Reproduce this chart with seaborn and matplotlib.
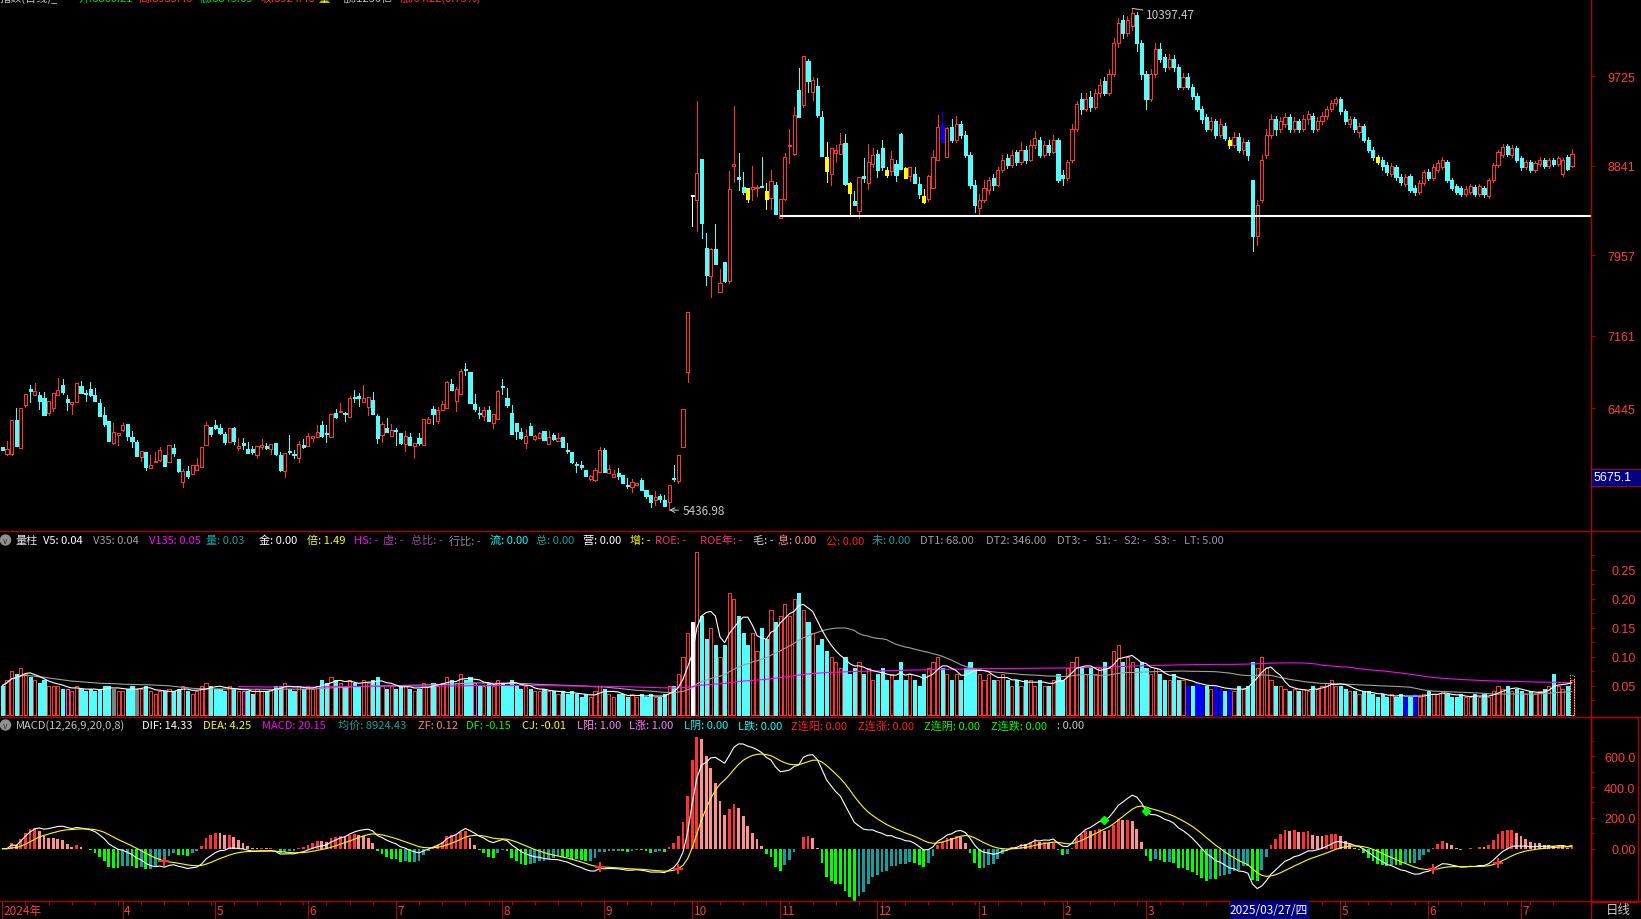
import numpy as np
import pandas as pd
import seaborn as sns
import matplotlib.pyplot as plt
from matplotlib.patches import Rectangle, Ellipse
from matplotlib.lines import Line2D

# Daily bars, Feb 2024 .. Jul 2025
opens = [
    6055, 5990, 5990, 6326, 6052, 6478, 6633, 6577, 6574, 6544,
    6399, 6448, 6577, 6673, 6534, 6481, 6508, 6663, 6587, 6633,
    6574, 6494, 6376, 6316, 6098, 6181, 6230, 6287, 6161, 6112,
    5963, 6013, 5854, 5914, 5933, 5980, 5914, 6049, 5940, 5709,
    5821, 5791, 5831, 5864, 6082, 6260, 6277, 6250, 6188, 6105,
    6247, 6052, 6098, 6039, 6039, 5983, 6056, 6072, 6039, 6095,
    5983, 5824, 6010, 5986, 5947, 6079, 6065, 6148, 6161, 6277,
    6190, 6161, 6395, 6402, 6392, 6359, 6544, 6567, 6508, 6458,
    6524, 6366, 6181, 6244, 6171, 6222, 6197, 6092, 6161, 6065,
    6148, 6082, 6293, 6438, 6320, 6428, 6448, 6682, 6518, 6587,
    6825, 6801, 6485, 6392, 6369, 6425, 6293, 6339, 6652, 6544,
    6395, 6296, 6204, 6095, 6267, 6138, 6147, 6219, 6088, 6177,
    6117, 6154, 6025, 6012, 5888, 5883, 5837, 5748, 5731, 5814,
    6031, 5804, 5764, 5807, 5781, 5677, 5662, 5685, 5731, 5632,
    5583, 5536, 5576, 5540, 5517, 5743, 5721, 6064, 6804, 8550,
    8503, 8906, 8025, 7751, 8015, 7593, 7886, 7702, 8840, 8725,
    8635, 8619, 8616, 8622, 8638, 8593, 8527, 8649, 8329, 8517,
    9032, 8955, 9589, 9441, 9880, 9566, 9625, 9325, 8929, 8764,
    8972, 8955, 9064, 8668, 8494, 8395, 8741, 8675, 8863, 8955,
    9015, 8800, 8790, 8857, 9154, 8814, 8741, 8758, 8659, 8543,
    8510, 8619, 8899, 9246, 8929, 9220, 9100, 9250, 9150, 8950,
    8650, 8420, 8500, 8600, 8720, 8650, 8800, 8920, 8850, 8980,
    8880, 9000, 8900, 9050, 9100, 8950, 9050, 8980, 9100, 8750,
    8720, 8900, 9200, 9500, 9400, 9520, 9420, 9560, 9680, 9560,
    9750, 10050, 10280, 10150, 10220, 10330, 10050, 9750, 9500, 9750,
    10000, 9920, 9820, 9900, 9820, 9620, 9720, 9620, 9530, 9400,
    9320, 9200, 9280, 9150, 9230, 9100, 9050, 9130, 9000, 9080,
    8700, 8150, 8500, 8950, 9150, 9300, 9200, 9250, 9320, 9200,
    9280, 9200, 9300, 9330, 9200, 9280, 9330, 9400, 9460, 9500,
    9380, 9250, 9300, 9170, 9230, 9100, 9000, 8930, 8900, 8850,
    8760, 8830, 8730, 8660, 8740, 8620, 8580, 8670, 8780, 8720,
    8800, 8830, 8880, 8700, 8640, 8620, 8560, 8580, 8630, 8560,
    8620, 8540, 8700, 8850, 8950, 9040, 8950, 9020, 8920, 8830,
    8880, 8800, 8860, 8900, 8840, 8900, 8860, 8760, 8930, 8840,
]
highs = [
    6062, 6121, 6326, 6445, 6445, 6584, 6673, 6692, 6600, 6607,
    6518, 6593, 6742, 6732, 6577, 6501, 6692, 6712, 6623, 6702,
    6643, 6534, 6452, 6316, 6296, 6194, 6296, 6287, 6217, 6128,
    6019, 6013, 5980, 6006, 6055, 5980, 6079, 6088, 5940, 5841,
    5874, 5881, 5950, 6056, 6303, 6260, 6326, 6287, 6204, 6247,
    6254, 6148, 6148, 6105, 6065, 6065, 6138, 6098, 6085, 6095,
    6013, 5996, 6178, 6029, 6118, 6138, 6197, 6171, 6277, 6316,
    6277, 6382, 6435, 6491, 6409, 6560, 6623, 6593, 6673, 6550,
    6603, 6382, 6303, 6346, 6287, 6244, 6197, 6214, 6194, 6102,
    6197, 6336, 6352, 6468, 6451, 6514, 6709, 6732, 6656, 6831,
    6890, 6801, 6583, 6452, 6452, 6461, 6382, 6626, 6732, 6643,
    6475, 6296, 6247, 6237, 6296, 6175, 6210, 6219, 6213, 6203,
    6197, 6154, 6104, 6012, 5913, 5926, 5837, 5787, 5856, 6064,
    6048, 5886, 5830, 5856, 5781, 5758, 5741, 5708, 5758, 5632,
    5583, 5622, 5599, 5583, 5682, 5880, 5979, 6434, 7391, 8550,
    9477, 8906, 8173, 8032, 8263, 7824, 7886, 8794, 9431, 8965,
    8780, 8625, 8834, 8649, 8932, 8668, 8797, 8682, 8517, 8965,
    9203, 9424, 9807, 9922, 9896, 9715, 9707, 9378, 9071, 9015,
    9045, 9160, 9154, 8685, 8593, 8734, 8916, 9055, 9015, 8995,
    9094, 8824, 8982, 8896, 9164, 8824, 8824, 8824, 8725, 8609,
    8748, 8998, 9341, 9378, 9220, 9300, 9330, 9280, 9180, 8980,
    8700, 8560, 8700, 8730, 8760, 8830, 8950, 8960, 9000, 9000,
    9080, 9040, 9100, 9180, 9130, 9090, 9100, 9150, 9120, 8800,
    8900, 9250, 9480, 9560, 9560, 9580, 9600, 9700, 9720, 9800,
    10100, 10300, 10330, 10320, 10397.47, 10360, 10080, 9780, 9800, 10050,
    10050, 9950, 9950, 9940, 9850, 9760, 9760, 9650, 9560, 9430,
    9350, 9320, 9300, 9300, 9260, 9130, 9170, 9160, 9120, 9100,
    8700, 8500, 8950, 9200, 9350, 9330, 9320, 9360, 9350, 9320,
    9300, 9340, 9380, 9360, 9320, 9370, 9430, 9490, 9520, 9520,
    9400, 9330, 9320, 9260, 9250, 9130, 9030, 8950, 8930, 8880,
    8870, 8850, 8760, 8760, 8760, 8650, 8700, 8800, 8810, 8860,
    8900, 8930, 8900, 8720, 8660, 8640, 8640, 8660, 8650, 8660,
    8640, 8720, 8870, 9000, 9060, 9060, 9050, 9040, 8940, 8900,
    8900, 8890, 8930, 8920, 8920, 8920, 8940, 8920, 8950, 9005,
]
lows = [
    6028, 5985, 5980, 6072, 6052, 6451, 6508, 6577, 6435, 6376,
    6379, 6418, 6577, 6584, 6428, 6389, 6508, 6593, 6518, 6560,
    6514, 6369, 6270, 6122, 6088, 6079, 6220, 6128, 6062, 5973,
    5923, 5834, 5854, 5914, 5923, 5874, 5914, 5973, 5808, 5666,
    5758, 5791, 5831, 5864, 6082, 6171, 6237, 6188, 6089, 6105,
    6089, 6032, 6039, 5999, 5990, 5950, 6039, 6039, 5990, 5985,
    5824, 5765, 5990, 5947, 5914, 6046, 6065, 6112, 6161, 6161,
    6112, 6161, 6349, 6402, 6320, 6359, 6508, 6468, 6508, 6376,
    6385, 6102, 6112, 6211, 6171, 6082, 6085, 6023, 6082, 5950,
    6079, 6082, 6293, 6287, 6296, 6428, 6448, 6626, 6418, 6587,
    6775, 6498, 6418, 6349, 6329, 6316, 6250, 6339, 6584, 6458,
    6191, 6138, 6138, 6049, 6181, 6130, 6147, 6127, 6088, 6127,
    6117, 6055, 6005, 5900, 5814, 5840, 5771, 5734, 5721, 5814,
    5814, 5804, 5764, 5741, 5701, 5652, 5616, 5685, 5636, 5560,
    5467, 5487, 5517, 5477, 5436.98, 5725, 5702, 6064, 6705, 8246,
    8197, 8124, 7659, 7543, 7866, 7593, 7692, 7682, 8682, 8602,
    8560, 8483, 8503, 8543, 8630, 8418, 8418, 8368, 8329, 8503,
    8866, 8945, 9325, 9424, 9566, 9493, 9328, 8939, 8682, 8649,
    8880, 8955, 8649, 8352, 8451, 8329, 8682, 8616, 8824, 8725,
    8800, 8734, 8748, 8692, 8807, 8715, 8692, 8668, 8520, 8470,
    8494, 8619, 8899, 9071, 8929, 9080, 9080, 9120, 8930, 8620,
    8380, 8340, 8480, 8560, 8600, 8640, 8780, 8820, 8830, 8850,
    8860, 8870, 8890, 9020, 8930, 8930, 8950, 8970, 8680, 8650,
    8700, 8880, 9180, 9350, 9380, 9380, 9400, 9520, 9540, 9540,
    9730, 10020, 10100, 10120, 10180, 9980, 9700, 9404, 9480, 9720,
    9870, 9780, 9800, 9780, 9600, 9600, 9600, 9500, 9380, 9260,
    9180, 9180, 9120, 9130, 9100, 9020, 9030, 8980, 8960, 8900,
    8000, 8060, 8480, 8920, 9120, 9150, 9170, 9220, 9170, 9170,
    9170, 9180, 9250, 9170, 9180, 9250, 9300, 9380, 9440, 9350,
    9250, 9220, 9170, 9130, 9080, 8980, 8900, 8860, 8800, 8750,
    8740, 8700, 8650, 8640, 8580, 8550, 8560, 8650, 8700, 8700,
    8780, 8810, 8680, 8600, 8560, 8540, 8540, 8560, 8540, 8540,
    8530, 8520, 8680, 8830, 8930, 8940, 8930, 8880, 8800, 8810,
    8780, 8780, 8840, 8820, 8820, 8840, 8840, 8740, 8800, 8830,
]
closes = [
    6032, 6039, 6326, 6072, 6445, 6584, 6616, 6616, 6518, 6376,
    6518, 6593, 6623, 6600, 6508, 6501, 6692, 6593, 6583, 6574,
    6514, 6369, 6287, 6122, 6204, 6194, 6277, 6171, 6122, 5973,
    6019, 5864, 5881, 5918, 6029, 5874, 6079, 5999, 5824, 5821,
    5768, 5881, 5881, 6056, 6277, 6187, 6247, 6197, 6105, 6247,
    6122, 6072, 6079, 5999, 6006, 6065, 6079, 6049, 6085, 5990,
    5831, 5996, 6006, 5980, 6085, 6062, 6164, 6171, 6204, 6171,
    6187, 6382, 6356, 6409, 6385, 6541, 6540, 6544, 6541, 6550,
    6385, 6151, 6283, 6211, 6227, 6220, 6098, 6168, 6082, 6102,
    6098, 6336, 6336, 6385, 6425, 6484, 6699, 6626, 6633, 6811,
    6821, 6498, 6435, 6385, 6425, 6316, 6382, 6617, 6649, 6478,
    6191, 6220, 6145, 6164, 6181, 6171, 6203, 6127, 6160, 6137,
    6144, 6055, 6022, 5913, 5886, 5857, 5771, 5774, 5830, 6028,
    5814, 5847, 5791, 5774, 5701, 5675, 5711, 5708, 5636, 5576,
    5517, 5569, 5543, 5477, 5682, 5741, 5979, 6434, 7391, 8540,
    8767, 8272, 7758, 8015, 7866, 7679, 7702, 8609, 8857, 8708,
    8583, 8510, 8635, 8632, 8635, 8510, 8692, 8368, 8517, 8932,
    9045, 9342, 9325, 9922, 9682, 9688, 9342, 8939, 8790, 9015,
    8995, 9055, 8659, 8570, 8451, 8734, 8718, 8883, 8946, 8800,
    8830, 8748, 8906, 8751, 8807, 8724, 8824, 8675, 8560, 8484,
    8741, 8932, 9220, 9080, 9210, 9100, 9250, 9150, 8950, 8650,
    8450, 8500, 8620, 8700, 8650, 8800, 8900, 8850, 8950, 8880,
    9000, 8900, 9050, 9120, 8950, 9050, 8980, 9100, 8700, 8720,
    8880, 9200, 9450, 9400, 9500, 9420, 9560, 9640, 9560, 9750,
    10050, 10250, 10150, 10280, 10350, 10050, 9750, 9500, 9750, 10000,
    9900, 9820, 9900, 9820, 9620, 9720, 9620, 9530, 9400, 9300,
    9200, 9280, 9150, 9250, 9120, 9050, 9130, 9000, 9080, 8950,
    8150, 8450, 8900, 9150, 9300, 9200, 9280, 9320, 9200, 9280,
    9200, 9300, 9350, 9200, 9280, 9330, 9400, 9460, 9500, 9380,
    9280, 9300, 9200, 9230, 9100, 9000, 8930, 8880, 8840, 8780,
    8840, 8730, 8680, 8730, 8600, 8580, 8670, 8780, 8720, 8830,
    8870, 8900, 8700, 8620, 8580, 8560, 8610, 8640, 8560, 8640,
    8560, 8700, 8850, 8980, 9030, 8960, 9020, 8900, 8830, 8880,
    8800, 8870, 8900, 8840, 8900, 8860, 8920, 8900, 8810, 8960,
]
volumes = [
    0.05, 0.06, 0.075, 0.07, 0.08, 0.07, 0.065, 0.06, 0.055, 0.06,
    0.05, 0.05, 0.05, 0.045, 0.045, 0.04, 0.05, 0.045, 0.04, 0.045,
    0.04, 0.045, 0.05, 0.05, 0.045, 0.04, 0.04, 0.045, 0.05, 0.045,
    0.045, 0.05, 0.04, 0.035, 0.04, 0.04, 0.045, 0.04, 0.045, 0.05,
    0.04, 0.035, 0.04, 0.05, 0.055, 0.05, 0.045, 0.045, 0.04, 0.05,
    0.045, 0.04, 0.04, 0.04, 0.035, 0.045, 0.04, 0.04, 0.045, 0.05,
    0.05, 0.055, 0.045, 0.04, 0.05, 0.045, 0.05, 0.045, 0.05, 0.06,
    0.055, 0.065, 0.06, 0.055, 0.05, 0.06, 0.055, 0.05, 0.06, 0.055,
    0.06, 0.065, 0.05, 0.045, 0.05, 0.045, 0.05, 0.05, 0.045, 0.04,
    0.045, 0.055, 0.05, 0.055, 0.05, 0.055, 0.065, 0.06, 0.055, 0.07,
    0.06, 0.065, 0.055, 0.05, 0.05, 0.055, 0.05, 0.06, 0.055, 0.05,
    0.06, 0.05, 0.045, 0.05, 0.045, 0.04, 0.04, 0.045, 0.04, 0.04,
    0.035, 0.04, 0.035, 0.04, 0.035, 0.03, 0.035, 0.03, 0.04, 0.05,
    0.045, 0.035, 0.03, 0.035, 0.035, 0.03, 0.035, 0.03, 0.035, 0.03,
    0.035, 0.03, 0.03, 0.035, 0.05, 0.05, 0.07, 0.10, 0.14, 0.16,
    0.28, 0.17, 0.13, 0.15, 0.12, 0.10, 0.12, 0.21, 0.20, 0.17,
    0.14, 0.12, 0.14, 0.11, 0.15, 0.13, 0.18, 0.16, 0.17, 0.19,
    0.17, 0.20, 0.21, 0.18, 0.16, 0.14, 0.12, 0.13, 0.11, 0.10,
    0.09, 0.08, 0.10, 0.07, 0.08, 0.09, 0.07, 0.08, 0.06, 0.07,
    0.08, 0.06, 0.07, 0.06, 0.09, 0.06, 0.07, 0.06, 0.05, 0.07,
    0.08, 0.09, 0.10, 0.08, 0.07, 0.06, 0.07, 0.06, 0.08, 0.09,
    0.08, 0.07, 0.06, 0.07, 0.06, 0.06, 0.07, 0.06, 0.05, 0.06,
    0.05, 0.06, 0.06, 0.05, 0.06, 0.05, 0.05, 0.06, 0.07, 0.06,
    0.08, 0.09, 0.10, 0.08, 0.07, 0.08, 0.07, 0.08, 0.09, 0.08,
    0.11, 0.12, 0.09, 0.10, 0.09, 0.08, 0.09, 0.08, 0.07, 0.08,
    0.07, 0.06, 0.06, 0.07, 0.06, 0.06, 0.05, 0.05, 0.055, 0.05,
    0.05, 0.045, 0.05, 0.045, 0.04, 0.045, 0.04, 0.05, 0.045, 0.05,
    0.09, 0.08, 0.10, 0.08, 0.06, 0.05, 0.05, 0.045, 0.04, 0.045,
    0.04, 0.045, 0.04, 0.05, 0.045, 0.05, 0.055, 0.06, 0.05, 0.05,
    0.045, 0.04, 0.04, 0.035, 0.04, 0.04, 0.035, 0.03, 0.035, 0.03,
    0.035, 0.03, 0.035, 0.03, 0.03, 0.035, 0.03, 0.035, 0.04, 0.035,
    0.035, 0.04, 0.035, 0.03, 0.03, 0.035, 0.03, 0.03, 0.035, 0.03,
    0.035, 0.03, 0.04, 0.05, 0.045, 0.05, 0.04, 0.045, 0.04, 0.035,
    0.04, 0.035, 0.04, 0.045, 0.05, 0.07, 0.05, 0.045, 0.05, 0.06,
]
last_volume_estimate = 0.068

# bars drawn in special colours by the software
white_bars = [149]
yellow_bars = [161, 165, 178, 183, 191, 195, 199, 265, 297]
blue_bars = [203]
blue_volume_bars = [256, 258, 259, 262, 263, 265, 303, 305]
gray_volume_bars = [24, 29]
magenta_volume_bars = [14, 52, 102]

support_level = 8345
support_from = 168
high_bar, low_bar = 244, 144
red_cross_bars = [35, 129, 146, 309, 323]
green_mark_bars = [238, 247]

month_bars = [0, 26, 46, 66, 85, 108, 130, 149, 168, 189, 211, 229, 247, 267, 289, 308, 328]
month_labels = ['2024年', '4', '5', '6', '7', '8', '9', '10', '11', '12',
                '1', '2', '3', '4', '5', '6', '7']
cursor_bar = 267   # its month label sits under the cursor date box

price_ticks = [6445, 7161, 7957, 8841, 9725]
vol_ticks = [0.05, 0.10, 0.15, 0.20, 0.25]
macd_ticks = [0, 200, 400, 600]

n = len(closes)
assert all(len(a) == n for a in (opens, highs, lows, volumes)), [len(a) for a in (opens, highs, lows, closes, volumes)]

df = pd.DataFrame({'open': opens, 'high': highs, 'low': lows, 'close': closes, 'vol': volumes})
df['i'] = np.arange(n)

RED = '#FF3232'
CYAN = '#54FCFC'
YELLOW = '#FFFF00'
BLUE = '#0000FF'
LINE_RED = '#B00000'
LABEL_RED = '#FF3C3C'
CJK = ['Noto Sans CJK SC', 'DejaVu Sans']
PX = 0.72  # one pixel in points at 100 dpi

sns.set_theme(style='dark', rc={'axes.facecolor': 'black', 'figure.facecolor': 'black',
                                'savefig.facecolor': 'black', 'axes.grid': False})
plt.rcParams['font.family'] = CJK
plt.rcParams['axes.unicode_minus'] = False

W, H = 1641, 920
fig = plt.figure(figsize=(W / 100, H / 100), dpi=100)


def fx(x):
    return x / W


def fy(y):
    return 1 - y / H


def px_axes(x0, y0, x1, y1):
    return fig.add_axes([x0 / W, 1 - y1 / H, (x1 - x0) / W, (y1 - y0) / H])


ax_p = px_axes(0, 0, 1591, 532)
ax_v = px_axes(0, 532, 1591, 718)
ax_m = px_axes(0, 718, 1591, 902)
ax_d = px_axes(0, 902, 1591, 920)
XLIM = (-0.5, 343.1)

# ---- candles
face, edge = [], []
for i, (o, c) in enumerate(zip(opens, closes)):
    if i in white_bars:
        f = e = 'white'
    elif i in yellow_bars:
        f = e = YELLOW
    elif i in blue_bars:
        f = e = BLUE
    elif c >= o:
        f, e = 'black', RED
    else:
        f = e = CYAN
    face.append(f)
    edge.append(e)

body_lo = np.minimum(df.open, df.close)
body_h = np.maximum((df.close - df.open).abs(), 10)
ax_p.vlines(df.i, df.low, df.high, colors=edge, linewidth=PX, antialiased=False, zorder=2)
ax_p.bar(df.i, body_h, bottom=body_lo, width=0.68, color=face, edgecolor=edge,
         linewidth=PX, antialiased=False, zorder=3)
ax_p.hlines(support_level, support_from, XLIM[1], color='white', linewidth=1.5, zorder=4)

ax_p.annotate(f'{highs[high_bar]:.2f}', xy=(high_bar, highs[high_bar]), xytext=(14, -6),
              textcoords='offset pixels', color='#C8C8C8', fontsize=8.5, va='center',
              arrowprops=dict(arrowstyle='-', color='#C8C8C8', lw=PX, shrinkA=0, shrinkB=0))
ax_p.annotate(f'{lows[low_bar]:.2f}', xy=(low_bar, lows[low_bar]), xytext=(14, -1),
              textcoords='offset pixels', color='#C8C8C8', fontsize=8.5, va='center',
              arrowprops=dict(arrowstyle='->', color='#C8C8C8', lw=PX, shrinkA=1, shrinkB=0))
ax_p.set_ylim(5229, 10490)

# ---- volume
vface, vedge = [], []
for i, (o, c) in enumerate(zip(opens, closes)):
    if i in blue_volume_bars:
        f = e = BLUE
    elif i in gray_volume_bars:
        f = e = '#808080'
    elif i in magenta_volume_bars:
        f, e = 'black', '#FF40C0'
    elif i in white_bars:
        f = e = 'white'
    elif c >= o:
        f, e = 'black', RED
    else:
        f = e = CYAN
    vface.append(f)
    vedge.append(e)

ax_v.bar(df.i, df.vol, width=0.68, color=vface, edgecolor=vedge, linewidth=PX, antialiased=False)
ax_v.bar(n - 1, last_volume_estimate, width=0.68, fill=False, edgecolor=YELLOW,
         linewidth=PX, linestyle=':', zorder=1)
v5 = df.vol.rolling(5, min_periods=1).mean()
v35 = df.vol.rolling(35, min_periods=1).mean()
v135 = df.vol.rolling(135, min_periods=52).mean()
sns.lineplot(x=df.i, y=v35, ax=ax_v, color='#A0A0A0', linewidth=0.8, legend=False)
sns.lineplot(x=df.i, y=v135, ax=ax_v, color='#FF00FF', linewidth=0.8, legend=False)
sns.lineplot(x=df.i, y=v5, ax=ax_v, color='white', linewidth=0.8, legend=False)
ax_v.set_ylim(-0.0041, 0.3166)

# ---- MACD
ema12 = df.close.ewm(span=12, adjust=False).mean()
ema26 = df.close.ewm(span=26, adjust=False).mean()
dif = ema12 - ema26
dea = dif.ewm(span=9, adjust=False).mean()
macd = 2 * (dif - dea)
prev = macd.shift(1).fillna(0)
hist_col = []
for m, p in zip(macd, prev):
    if m >= 0:
        hist_col.append(RED if m >= p else '#FF9090')
    else:
        hist_col.append('#00FF00' if m <= p else '#10A0A0')
ax_m.bar(df.i, macd, width=0.6, color=hist_col, linewidth=0, antialiased=False)
sns.lineplot(x=df.i, y=dif, ax=ax_m, color='white', linewidth=0.8, legend=False)
sns.lineplot(x=df.i, y=dea, ax=ax_m, color=YELLOW, linewidth=0.8, legend=False)
ax_m.plot(red_cross_bars, dea[red_cross_bars], linestyle='none', marker='+', color=RED,
          markersize=7, markeredgewidth=1.4)
ax_m.plot(green_mark_bars, dif[green_mark_bars], linestyle='none', marker='D', color='#00FF00',
          markersize=4)
ax_m.set_ylim(-339, 854)


def right_axis(ax, major, labels, minor=()):
    ax.set_xlim(XLIM)
    ax.set_xlabel('')
    ax.set_ylabel('')
    ax.yaxis.tick_right()
    ax.set_yticks(major)
    ax.set_yticklabels(labels)
    ax.set_yticks(list(minor), minor=True)
    ax.tick_params(axis='y', which='both', colors=LINE_RED, labelcolor=LABEL_RED,
                   length=3, width=PX, direction='out', pad=29, labelsize=9)
    ax.tick_params(axis='y', which='minor', length=2)
    ax.tick_params(axis='x', bottom=False, labelbottom=False)
    for t in ax.get_yticklabels():
        t.set_ha('right')
        t.set_family(['Liberation Sans', 'DejaVu Sans'])
    for s in ax.spines.values():
        s.set_visible(False)


right_axis(ax_p, price_ticks, [str(v) for v in price_ticks])
right_axis(ax_v, vol_ticks, [f'{v:.2f}' for v in vol_ticks],
           [0.025, 0.075, 0.125, 0.175, 0.225, 0.275])
right_axis(ax_m, macd_ticks, ['0.00', '200.0', '400.0', '600.0'], [100, 300, 500, 700])

# ---- date strip
ax_d.set_xlim(XLIM)
ax_d.set_ylim(0, 1)
ax_d.set_axis_off()
ax_d.vlines(month_bars, 0, 1, color=LINE_RED, linewidth=PX)
ax_d.vlines(np.arange(0, n, 5), 0.8, 1.0, color=LINE_RED, linewidth=PX)
for b, lab in zip(month_bars, month_labels):
    if b == cursor_bar:
        continue
    ax_d.text(b + 0.3, 0.45, lab, color=LABEL_RED, fontsize=8.5, va='center', ha='left')
fig.add_artist(Rectangle((fx(1230), fy(920)), 78 / W, 18 / H, facecolor='#000080',
                         edgecolor='#000080', zorder=5))
fig.text(fx(1269), fy(911), '2025/03/27/四', color='white', fontsize=8.5,
         ha='center', va='center', zorder=6)
fig.text(fx(1618), fy(911), '日线', color='#C8C8C8', fontsize=9, ha='center', va='center')

# ---- frame lines
for y in (532, 718, 902):
    fig.add_artist(Line2D([0, 1], [fy(y), fy(y)], color=LINE_RED, linewidth=1))
fig.add_artist(Line2D([fx(1591), fx(1591)], [0, 1], color=LINE_RED, linewidth=1))
fig.add_artist(Rectangle((fx(1591), fy(903)), 47 / W, 185 / H, fill=False,
                         edgecolor=LINE_RED, linewidth=1))
fig.add_artist(Rectangle((fx(1591), fy(487)), 50 / W, 17 / H, facecolor='#000080',
                         edgecolor=LINE_RED, linewidth=PX, zorder=5))
fig.text(fx(1594), fy(478.5), '5675.1', color='white', fontsize=9, va='center', ha='left',
         family=['Liberation Sans', 'DejaVu Sans'], zorder=6)

# ---- header rows (the title row is cut by the top edge, as in the screenshot)
title_parts = [('指数(日线)_', 0, '#C0C0C0'), ('开:8860.21', 78, '#00E000'),
               ('高:8935.40', 138, RED), ('低:8843.65', 199, '#00E000'),
               ('收:8924.43', 260, RED), ('量', 318, YELLOW), ('额:1236亿', 343, '#C0C0C0'),
               ('涨:64.22(0.73%)', 400, RED)]
for txt, x, col in title_parts:
    fig.text(fx(x), fy(2), txt, color=col, fontsize=8, va='baseline', ha='left')

vol_header = [
    ('量柱', 15, '#E0E0E0'), ('V5: 0.04', 43, '#FFFFFF'), ('V35: 0.04', 93, '#A0A0A0'),
    ('V135: 0.05', 149, '#FF00FF'), ('量: 0.03', 206, '#1AA0A0'), ('金: 0.00', 259, '#FFFFFF'),
    ('倍: 1.49', 307, YELLOW), ('HS: -', 354, '#FF00FF'), ('虚: -', 383, '#B040B0'),
    ('总比: -', 411, '#9050A0'), ('行比: -', 449, '#A080A0'), ('流: 0.00', 490, '#00FFFF'),
    ('总: 0.00', 536, '#1AA0A0'), ('营: 0.00', 583, '#FFFFFF'), ('增: -', 630, YELLOW),
    ('ROE: -', 655, '#FF2A80'), ('ROE年: -', 700, '#FF2A80'), ('毛: -', 753, '#D8D8D8'),
    ('息: 0.00', 778, '#FF9090'), ('公: 0.00', 826, '#FF2020'), ('未: 0.00', 872, '#1AA0A0'),
    ('DT1: 68.00', 920, '#A0A0A0'), ('DT2: 346.00', 986, '#A0A0A0'), ('DT3: -', 1057, '#A0A0A0'),
    ('S1: -', 1095, '#A090B0'), ('S2: -', 1124, '#A090B0'), ('S3: -', 1154, '#A090B0'),
    ('LT: 5.00', 1184, '#A090B0'),
]
macd_header = [
    ('MACD(12,26,9,20,0,8)', 16, '#C8C8C8'), ('DIF: 14.33', 142, '#FFFFFF'),
    ('DEA: 4.25', 203, YELLOW), ('MACD: 20.15', 262, '#FF00FF'), ('均价: 8924.43', 338, '#1AA0A0'),
    ('ZF: 0.12', 418, '#FF8080'), ('DF: -0.15', 466, '#00FF00'), ('CJ: -0.01', 522, YELLOW),
    ('L阳: 1.00', 577, '#FF80FF'), ('L涨: 1.00', 629, '#FF80FF'), ('L阴: 0.00', 684, '#00FFFF'),
    ('L跌: 0.00', 738, '#00FFFF'), ('Z连阳: 0.00', 791, '#FF2020'), ('Z连涨: 0.00', 858, '#FF2020'),
    ('Z连阴: 0.00', 924, '#00FF00'), ('Z连跌: 0.00', 991, '#00FF00'), (': 0.00', 1057, '#C8C8C8'),
]
for row, y in ((vol_header, 541), (macd_header, 726)):
    fig.add_artist(Ellipse((fx(5.5), fy(y)), 10 / W, 10 / H, color='#909090'))
    fig.text(fx(5.5), fy(y + 0.5), 'v', color='#303030', fontsize=6, ha='center', va='center')
    for txt, x, col in row:
        fig.text(fx(x), fy(y), txt, color=col, fontsize=8, va='center', ha='left')

fig.savefig('out.png', dpi=100, facecolor='black')
